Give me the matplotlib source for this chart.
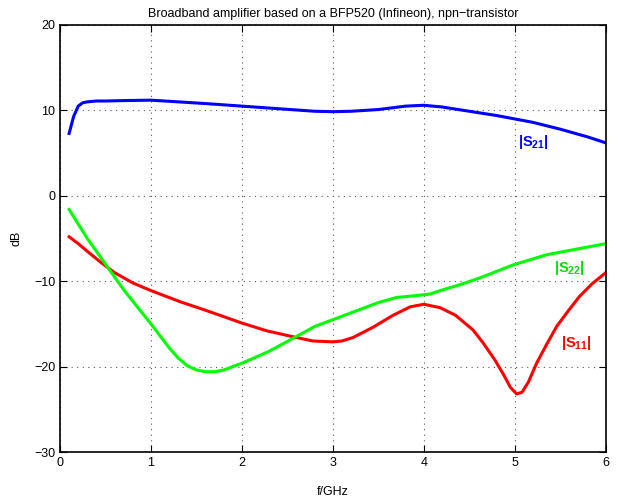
import matplotlib
matplotlib.use('Agg')
import matplotlib.pyplot as plt

plt.rcParams['font.family'] = ['Liberation Sans', 'DejaVu Sans']
plt.rcParams['mathtext.fontset'] = 'custom'
plt.rcParams['mathtext.rm'] = 'Liberation Sans'
plt.rcParams['mathtext.bf'] = 'Liberation Sans:bold'

# |S21|
f_s21 = [0.1, 0.15, 0.2, 0.25, 0.3, 0.4, 0.5, 0.7, 1.0, 1.3, 1.6, 2.0, 2.4, 2.8, 3.0,
         3.2, 3.5, 3.8, 4.0, 4.2, 4.5, 4.8, 5.0, 5.2, 5.5, 5.8, 6.0]
s21 = [7.3, 9.3, 10.5, 10.9, 11.0, 11.1, 11.1, 11.15, 11.2, 11.0, 10.8, 10.5, 10.2, 9.9, 9.85,
       9.9, 10.1, 10.5, 10.6, 10.4, 9.9, 9.4, 9.0, 8.6, 7.8, 6.9, 6.2]

# |S11|
f_s11 = [0.1, 0.2, 0.3, 0.45, 0.6, 0.8, 1.0, 1.32, 1.6, 2.0, 2.27, 2.56, 2.78, 3.0, 3.1,
         3.22, 3.44, 3.66, 3.85, 4.0, 4.18, 4.35, 4.54, 4.65, 4.78, 4.88, 4.95, 5.02,
         5.08, 5.15, 5.24, 5.35, 5.46, 5.6, 5.71, 5.85, 6.0]
s11 = [-4.8, -5.6, -6.5, -7.8, -9.0, -10.2, -11.1, -12.4, -13.4, -14.9, -15.8, -16.5, -17.0,
       -17.1, -17.0, -16.6, -15.4, -14.0, -13.0, -12.7, -13.1, -14.0, -15.7, -17.2, -19.2,
       -21.0, -22.4, -23.2, -23.0, -21.8, -19.6, -17.4, -15.3, -13.3, -11.8, -10.3, -9.0]

# |S22|
f_s22 = [0.1, 0.3, 0.5, 0.7, 1.0, 1.2, 1.3, 1.4, 1.5, 1.6, 1.7, 1.8, 1.9, 2.0, 2.3, 2.56,
         2.8, 3.0, 3.3, 3.5, 3.7, 3.9, 4.07, 4.18, 4.4, 4.62, 4.98, 5.35, 5.7, 6.0]
s22 = [-1.6, -5.0, -8.0, -11.0, -15.0, -17.8, -19.0, -19.9, -20.4, -20.6, -20.6, -20.4,
       -20.0, -19.6, -18.2, -16.7, -15.3, -14.5, -13.3, -12.5, -11.9, -11.7, -11.5, -11.1,
       -10.4, -9.6, -8.1, -6.9, -6.2, -5.6]

fig = plt.figure(figsize=(6.2, 4.97), dpi=100)
ax = fig.add_axes([0.0968, 0.0905, 0.8802, 0.8592])

ax.plot(f_s21, s21, color='#0000ff', lw=2.2)
ax.plot(f_s11, s11, color='#ff0000', lw=2.2)
ax.plot(f_s22, s22, color='#00ff00', lw=2.2)

ax.text(5.04, 6.3, r'$\mathbf{|S_{21}|}$', color='#0000ff', fontsize=10.5, va='center')
ax.text(5.43, -8.4, r'$\mathbf{|S_{22}|}$', color='#00e000', fontsize=10.5, va='center')
ax.text(5.51, -17.2, r'$\mathbf{|S_{11}|}$', color='#ff0000', fontsize=10.5, va='center')

ax.set_xlim(0, 6)
ax.set_ylim(-30, 20)
ax.set_xticks(range(0, 7))
ax.set_yticks(range(-30, 21, 10))
ax.set_yticklabels(['\u221230', '\u221220', '\u221210', '0', '10', '20'])
ax.grid(True, linestyle=(0, (1, 4)), color='#555555', lw=0.8)
ax.tick_params(direction='in', length=5, top=True, right=True, labelsize=9)
for sp in ax.spines.values():
    sp.set_linewidth(1.2)

ax.set_title('Broadband amplifier based on a BFP520 (Infineon), npn\u2212transistor', fontsize=9, pad=6)
ax.set_xlabel('f/GHz', fontsize=9, labelpad=12)
ax.set_ylabel('dB', fontsize=9, labelpad=8)

fig.savefig('out.png', dpi=100)
